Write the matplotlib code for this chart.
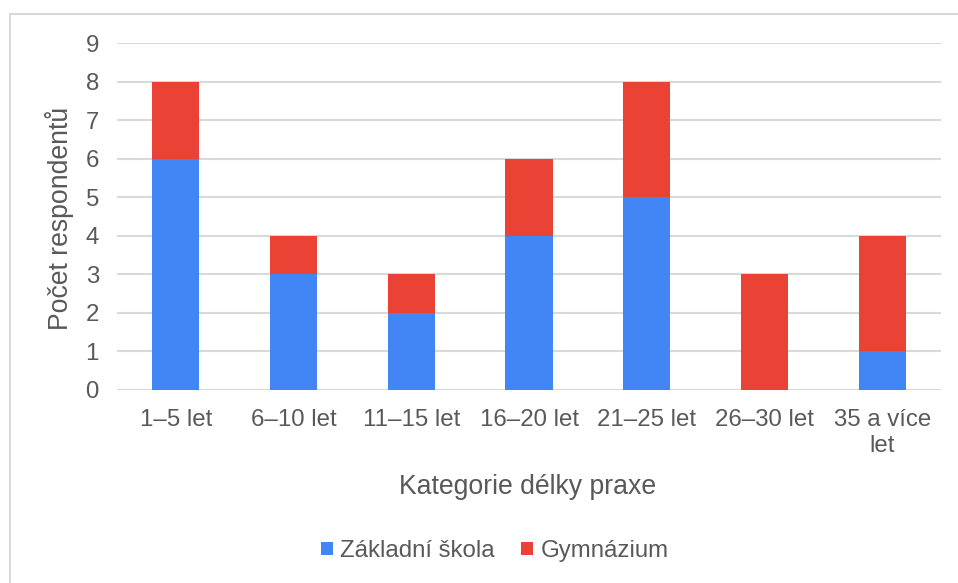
import numpy as np
import matplotlib.pyplot as plt
from matplotlib.patches import Rectangle

plt.rcParams['font.family'] = ['Liberation Sans', 'DejaVu Sans']

# data
categories = ['1–5 let', '6–10 let', '11–15 let', '16–20 let', '21–25 let',
              '26–30 let', '35 a více\nlet']
zakladni = [6, 3, 2, 4, 5, 0, 1]
gymnazium = [2, 1, 1, 2, 3, 3, 3]

blue = '#4285F4'
red = '#EA4335'
txt = '#595959'
grid = '#D9D9D9'

fig = plt.figure(figsize=(9.58, 5.83), dpi=100)
ax = fig.add_axes([117/958, 1 - 390/583, (941-117)/958, (390-43)/583])

x = np.arange(len(categories))
ax.bar(x, zakladni, width=0.4, color=blue, label='Základní škola', zorder=3)
ax.bar(x, gymnazium, width=0.4, bottom=zakladni, color=red, label='Gymnázium', zorder=3)

ax.set_xlim(-0.5, len(categories) - 0.5)
ax.set_ylim(0, 9)
ax.set_yticks(range(10))
ax.yaxis.grid(True, color=grid, lw=1.5, zorder=0)
ax.set_axisbelow(True)
for s in ax.spines.values():
    s.set_visible(False)
ax.axhline(0, color=grid, lw=1.5, zorder=2)

ax.set_xticks(x)
ax.set_xticklabels(categories, linespacing=1.2)
ax.tick_params(axis='both', length=0, labelsize=17.3, labelcolor=txt)
ax.tick_params(axis='x', pad=14)
ax.tick_params(axis='y', pad=13)

fig.text(528/958, 1 - 487/583, 'Kategorie délky praxe', ha='center', va='center',
         fontsize=19.2, color=txt)
fig.text(60/958, 1 - 218/583, 'Počet respondentů', ha='center', va='center',
         rotation=90, fontsize=19.2, color=txt)

leg = fig.legend(loc='center', bbox_to_anchor=(495/958, 1 - 551/583), ncol=2,
                 frameon=False, fontsize=17.3, handlelength=0.5, handleheight=0.5,
                 handletextpad=0.3, columnspacing=1.1)
for t in leg.get_texts():
    t.set_color(txt)

# outer chart border (only top and left edges fall inside the picture)
fig.patches.append(Rectangle((10/958, -0.05), 1.1, 1 - 14/583 + 0.05,
                             transform=fig.transFigure, fill=False,
                             edgecolor='#D9D9D9', lw=1.5))

fig.savefig('out.png', dpi=100)
